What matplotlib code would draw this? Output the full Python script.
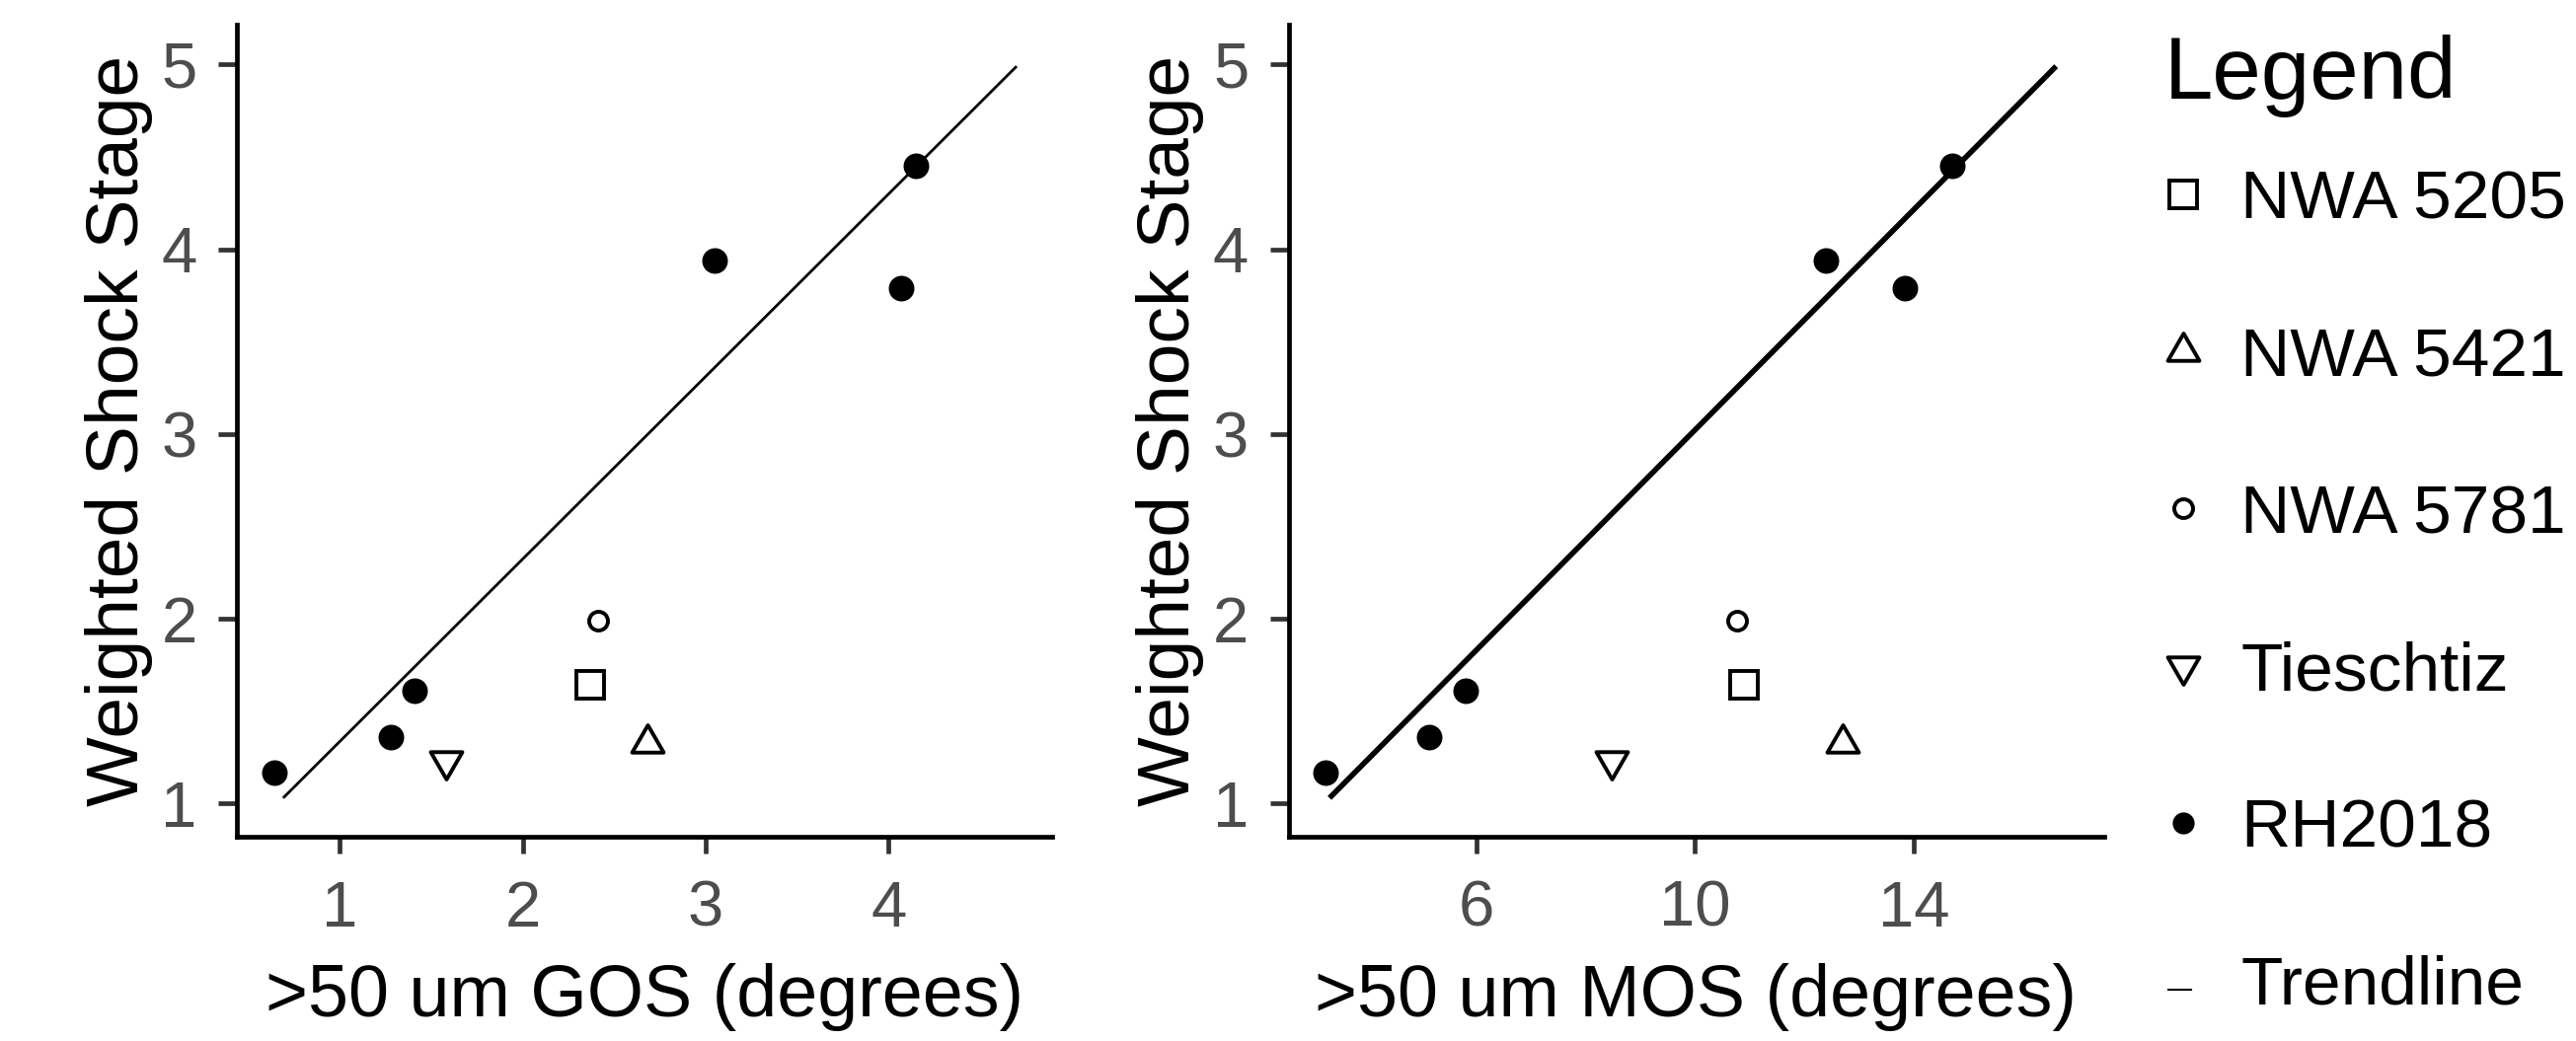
import matplotlib.pyplot as plt
from matplotlib.path import Path
from matplotlib.lines import Line2D

plt.rcParams['font.family'] = ['Liberation Sans', 'DejaVu Sans']

# weighted shock stage vs misorientation, RH2018 reference set
wss_rh = [1.165, 1.36, 1.61, 3.94, 3.787, 4.45]
gos_rh = [0.64, 1.28, 1.41, 3.05, 4.07, 4.15]
mos_rh = [3.25, 5.14, 5.81, 12.39, 13.83, 14.71]

# meteorites of this study
samples = ['NWA 5205', 'NWA 5421', 'NWA 5781', 'Tieschtiz']
wss_samples = [1.64, 1.33, 1.99, 1.23]
gos_samples = [2.37, 2.68, 2.41, 1.58]
mos_samples = [10.90, 12.70, 10.76, 8.47]

# trendlines (end points)
trend_gos_x = [0.69, 4.70]
trend_gos_y = [1.03, 4.99]
trend_mos_x = [3.32, 16.6]
trend_mos_y = [1.03, 4.99]

yticks = [1, 2, 3, 4, 5]
gos_ticks = [1, 2, 3, 4]
mos_ticks = [6, 10, 14]

legend_labels = samples + ['RH2018', 'Trendline']

tri_up = Path([(0, 1), (-0.866, -0.5), (0.866, -0.5), (0, 1)], closed=True)
tri_dn = Path([(0, -1), (-0.866, 0.5), (0.866, 0.5), (0, -1)], closed=True)
styles = {
    'NWA 5205': dict(marker='s', ms=19.5),
    'NWA 5421': dict(marker=tri_up, ms=26.6),
    'NWA 5781': dict(marker='o', ms=13.7),
    'Tieschtiz': dict(marker=tri_dn, ms=26.6),
}
MEW = 2.8

W, H = 2610, 1055
fig = plt.figure(figsize=(W / 100, H / 100), dpi=100)


def draw_panel(ax, x_rh, x_s, tx, ty, lw, xlim, xticks, xlabel):
    ax.plot(tx, ty, color='black', lw=lw, solid_capstyle='butt')
    for name, xv, yv in zip(samples, x_s, wss_samples):
        st = styles[name]
        ax.plot([xv], [yv], ls='none', marker=st['marker'], ms=st['ms'],
                mfc='none', mec='black', mew=MEW)
    ax.plot(x_rh, wss_rh, ls='none', marker='o', ms=18.7, color='black', mew=0)

    ax.set_xlim(xlim)
    ax.set_ylim(0.823, 5.215)
    ax.set_xticks(xticks)
    ax.set_yticks(yticks)
    for s in ['top', 'right']:
        ax.spines[s].set_visible(False)
    for s in ['left', 'bottom']:
        ax.spines[s].set_linewidth(3.4)
        ax.spines[s].set_color('black')
    ax.tick_params(axis='both', colors='#333333', width=3.4, labelsize=47,
                   labelcolor='#4D4D4D')
    ax.tick_params(axis='x', length=12, pad=20)
    ax.tick_params(axis='y', length=14, pad=15)
    ax.set_xlabel(xlabel, fontsize=53)
    ax.set_ylabel('Weighted Shock Stage', fontsize=54)
    ax.xaxis.set_label_coords(0.5, -0.156)
    ax.yaxis.set_label_coords(-0.103, 0.5)


ax1 = fig.add_axes([240 / W, 1 - 847.5 / H, 826 / W, 822.5 / H])
draw_panel(ax1, gos_rh, gos_samples, trend_gos_x, trend_gos_y, 2.0,
           (0.437, 4.894), gos_ticks, '>50 um GOS (degrees)')

ax2 = fig.add_axes([1305.5 / W, 1 - 847.5 / H, 826 / W, 822.5 / H])
draw_panel(ax2, mos_rh, mos_samples, trend_mos_x, trend_mos_y, 4.0,
           (2.57, 17.47), mos_ticks, '>50 um MOS (degrees)')

# legend, drawn by hand
fig.text(2193 / W, 1 - 100 / H, 'Legend', fontsize=64, va='baseline', ha='left')
key_x = 2212
for i, lab in enumerate(legend_labels):
    yc = 197 + 159.2 * i
    if lab in styles:
        st = styles[lab]
        fig.add_artist(Line2D([key_x / W], [1 - yc / H], transform=fig.transFigure,
                              ls='none', marker=st['marker'], ms=st['ms'],
                              mfc='none', mec='black', mew=MEW))
    elif lab == 'RH2018':
        fig.add_artist(Line2D([key_x / W], [1 - yc / H], transform=fig.transFigure,
                              ls='none', marker='o', ms=16, color='black', mew=0))
    else:
        fig.add_artist(Line2D([2197 / W, 2220 / W], [1 - (yc + 10) / H] * 2,
                              transform=fig.transFigure, color='black', lw=1.5))
    fig.text(2270 / W, 1 - (yc + 25) / H, lab, fontsize=50, va='baseline', ha='left')

fig.savefig('out.png', dpi=100)
